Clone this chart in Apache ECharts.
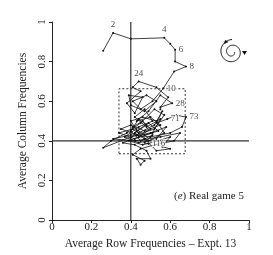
<!DOCTYPE html>
<html><head><meta charset="utf-8">
<script src="https://cdn.jsdelivr.net/npm/echarts@6/dist/echarts.min.js"></script>
<style>html,body{margin:0;padding:0;background:#fff}#c{width:273px;height:255px}</style>
</head><body><div id="c"></div>
<script>
// Trajectory of average row / column frequencies (periods 1..116)
const rowFreq = [0.26,0.31,0.40,0.57,0.60,0.625,0.625,0.68,0.62,0.565,
0.51,0.45,0.41,0.48,0.53,0.47,0.40,0.39,0.46,0.42,
0.38,0.45,0.41,0.44,0.53,0.59,0.55,0.61,0.55,0.49,
0.43,0.50,0.55,0.47,0.40,0.35,0.43,0.52,0.57,0.52,
0.45,0.38,0.30,0.26,0.40,0.50,0.58,0.53,0.44,0.37,
0.44,0.51,0.47,0.42,0.48,0.55,0.51,0.42,0.34,0.41,
0.49,0.57,0.53,0.46,0.40,0.44,0.52,0.56,0.55,0.53,
0.585,0.63,0.68,0.66,0.60,0.50,0.40,0.31,0.42,0.55,
0.65,0.62,0.52,0.45,0.41,0.47,0.45,0.43,0.50,0.48,
0.42,0.36,0.44,0.50,0.46,0.41,0.47,0.54,0.49,0.43,
0.39,0.46,0.54,0.60,0.56,0.60,0.53,0.47,0.42,0.48,
0.44,0.40,0.45,0.51,0.47,0.49];
const colFreq = [0.855,0.945,0.915,0.92,0.89,0.86,0.80,0.775,0.75,0.665,
0.60,0.56,0.60,0.63,0.60,0.55,0.58,0.63,0.62,0.54,
0.59,0.65,0.67,0.70,0.67,0.62,0.57,0.59,0.63,0.55,
0.50,0.52,0.48,0.45,0.48,0.46,0.43,0.46,0.53,0.56,
0.49,0.44,0.40,0.365,0.42,0.44,0.47,0.41,0.39,0.42,
0.47,0.50,0.56,0.52,0.47,0.51,0.44,0.41,0.44,0.46,
0.40,0.44,0.50,0.52,0.50,0.44,0.48,0.55,0.56,0.49,
0.51,0.53,0.52,0.47,0.44,0.42,0.43,0.41,0.40,0.42,
0.44,0.40,0.38,0.36,0.33,0.30,0.28,0.31,0.31,0.35,
0.38,0.39,0.42,0.46,0.50,0.47,0.43,0.45,0.49,0.45,
0.40,0.38,0.40,0.42,0.37,0.36,0.35,0.41,0.44,0.48,
0.51,0.45,0.40,0.43,0.39,0.385];
const labelledPeriods = [2,4,6,8,10,24,28,71,73,116];
const labelPos = ['top','top','right','right','right','top','right','right','right','right'];
const crossX = 0.4, crossY = 0.4;
const boxX = [0.34, 0.676];
const boxY = [0.335, 0.663];

const pathData = rowFreq.map((x,i)=>[x,colFreq[i]]);
const labelData = labelledPeriods.map((p,k)=>({value:[rowFreq[p-1],colFreq[p-1]],name:String(p),
  label:{position:labelPos[k],offset:p===71?[0,-5]:[0,0]}}));
const boxData = [[boxX[0],boxY[0]],[boxX[1],boxY[0]],[boxX[1],boxY[1]],[boxX[0],boxY[1]],[boxX[0],boxY[0]]];

// decorative spiral icon
const spiral=[];
for(let k=0;k<=120;k++){const t=k/120*3.5*Math.PI;const r=2.5+10*k/120;spiral.push([r*Math.cos(t),r*Math.sin(t)]);}

const F='Liberation Serif';
const ink='#222';
const chart=echarts.init(document.getElementById('c'),null,{renderer:'canvas'});
chart.setOption({
  animation:false,
  grid:{left:52,right:24,top:22,bottom:33},
  xAxis:{type:'value',min:0,max:1,interval:0.2,
    name:'Average Row Frequencies – Expt. 13',nameLocation:'middle',nameGap:15,
    nameTextStyle:{fontFamily:F,fontSize:11.5,color:ink},
    axisLine:{lineStyle:{color:ink,width:1}},axisTick:{length:3,lineStyle:{color:ink}},
    axisLabel:{fontFamily:F,fontSize:11,color:ink,margin:2},splitLine:{show:false}},
  yAxis:{type:'value',min:0,max:1,interval:0.2,
    name:'Average Column Frequencies',nameLocation:'middle',nameGap:22,
    nameTextStyle:{fontFamily:F,fontSize:11.5,color:ink},
    axisLine:{show:true,lineStyle:{color:ink,width:1}},axisTick:{show:true,length:3,lineStyle:{color:ink}},
    axisLabel:{fontFamily:F,fontSize:11,color:ink,rotate:90,margin:4},splitLine:{show:false}},
  series:[
    {type:'line',data:[[crossX,0],[crossX,1]],symbol:'none',lineStyle:{color:'#333',width:1.2},silent:true},
    {type:'line',data:[[0,crossY],[1,crossY]],symbol:'none',lineStyle:{color:'#333',width:1.2},silent:true},
    {type:'line',data:boxData,symbol:'none',lineStyle:{color:'#333',width:1,type:[2,2]},silent:true},
    {type:'line',data:pathData,symbol:'circle',symbolSize:2,itemStyle:{color:'#111'},lineStyle:{color:'#111',width:0.8}},
    {type:'scatter',data:labelData,symbolSize:1,z:10,itemStyle:{color:'#111'},
      labelLayout:{hideOverlap:false},
      label:{show:true,formatter:p=>p.name,fontFamily:F,fontSize:9,color:ink,distance:3,
        textBorderColor:'#fff',textBorderWidth:2}}
  ],
  graphic:[
    {type:'text',left:174,top:191,style:{text:'({i|e}) Real game 5',fontFamily:F,fontSize:11,fill:ink,
      rich:{i:{fontFamily:F,fontStyle:'italic',fontSize:11,fill:ink}}}},
    {type:'polyline',x:232,y:52,shape:{points:spiral},style:{stroke:'#111',fill:null,lineWidth:1}},
    {type:'polygon',x:244.5,y:53,shape:{points:[[-2.5,-2],[2.5,-2],[0,2]]},style:{fill:'#111'}},
    {type:'polygon',x:226,y:42,shape:{points:[[-2,2],[-1,-2],[2.5,0]]},style:{fill:'#111'}}
  ]
});
</script></body></html>
